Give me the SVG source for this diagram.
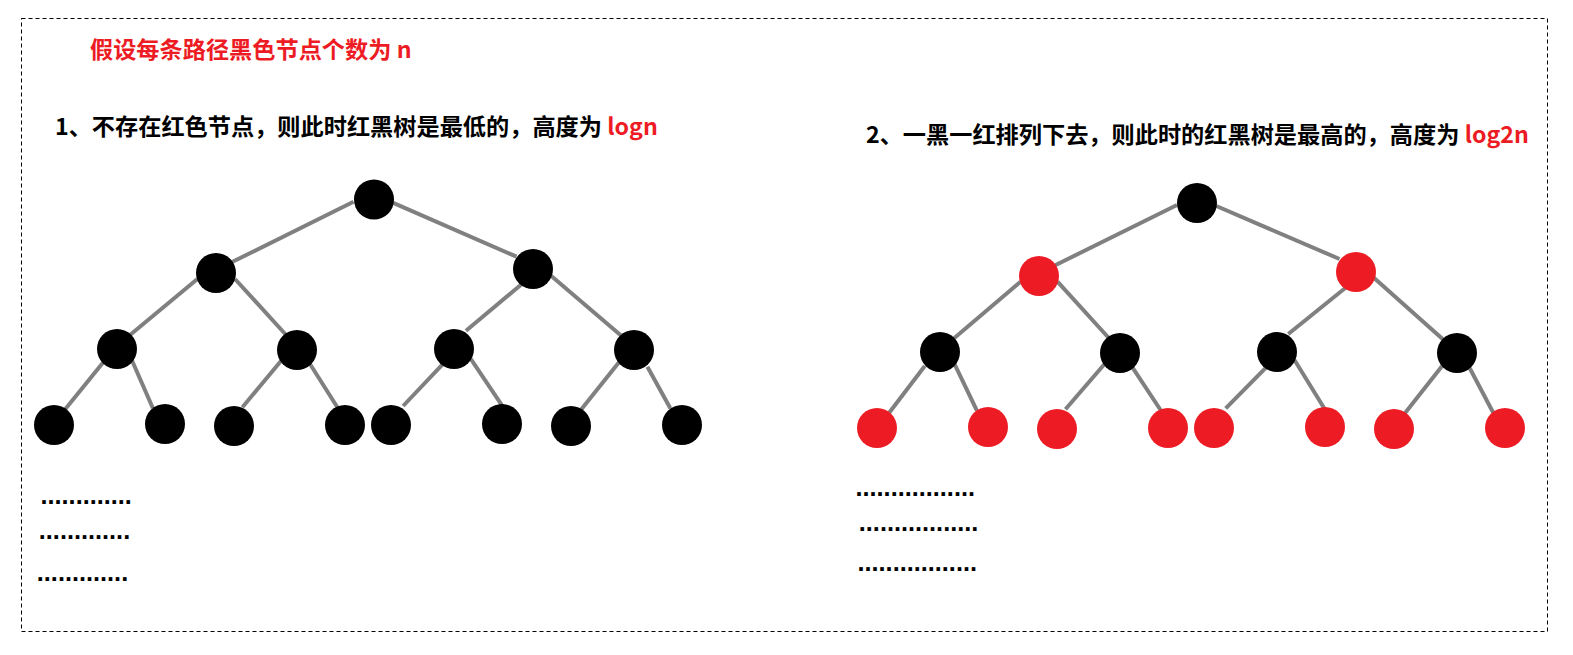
<svg xmlns="http://www.w3.org/2000/svg" width="1573" height="655" viewBox="0 0 1573 655">
<style>
.frame{fill:none;stroke:#000;stroke-width:1;stroke-dasharray:4 3}
.edge{stroke:#808080;stroke-width:4;stroke-linecap:butt}
.b{fill:#000}
.r{fill:#ED1C24}
.t{font-family:"Noto Sans CJK SC","Liberation Sans",sans-serif;font-weight:bold;font-size:23.2px;fill:#000}
.red{fill:#ED1C24}
.dots{font-family:"Liberation Sans",Arial,sans-serif;font-weight:bold;font-size:25.3px;fill:#000}
</style>
<rect width="1573" height="655" fill="#fff"/>
<rect class="frame" x="21.5" y="18.5" width="1526" height="613"/>

<g id="texts">
<text class="t red" x="90" y="58">假设每条路径黑色节点个数为 n</text>
<text class="t" x="55" y="135">1、不存在红色节点，则此时红黑树是最低的，高度为 <tspan class="red">logn</tspan></text>
<text class="t" x="866" y="143">2、一黑一红排列下去，则此时的红黑树是最高的，高度为 <tspan class="red">log2n</tspan></text>
<text class="dots" x="40.5" y="504">.............</text>
<text class="dots" x="38.8" y="539">.............</text>
<text class="dots" x="36.8" y="581">.............</text>
<text class="dots" x="855.5" y="496">.................</text>
<text class="dots" x="858.8" y="531">.................</text>
<text class="dots" x="857.5" y="571">.................</text>
</g>

<g id="connectors">
<line class="edge" x1="353.5" y1="201.7" x2="229.6" y2="263.3"/>
<line class="edge" x1="392.6" y1="202.7" x2="516.5" y2="256.7"/>
<line class="edge" x1="197.4" y1="279" x2="130" y2="335"/>
<line class="edge" x1="235" y1="279" x2="287" y2="336"/>
<line class="edge" x1="525.7" y1="280.7" x2="466" y2="330.7"/>
<line class="edge" x1="549" y1="274" x2="620.7" y2="335.3"/>
<line class="edge" x1="103.3" y1="362.3" x2="65.2" y2="409.3"/>
<line class="edge" x1="131.8" y1="360" x2="152.9" y2="408.3"/>
<line class="edge" x1="282.4" y1="359.3" x2="242.4" y2="407.3"/>
<line class="edge" x1="310" y1="364" x2="340.2" y2="411.7"/>
<line class="edge" x1="445.4" y1="361.3" x2="403.1" y2="406"/>
<line class="edge" x1="470.6" y1="358.7" x2="502.8" y2="406.7"/>
<line class="edge" x1="619.8" y1="361.3" x2="579.4" y2="411.7"/>
<line class="edge" x1="647.4" y1="366.7" x2="670.3" y2="408.3"/>

<line class="edge" x1="1177" y1="205" x2="1053.7" y2="266"/>
<line class="edge" x1="1216.3" y1="206" x2="1339.5" y2="259"/>
<line class="edge" x1="1020.5" y1="281.7" x2="953.2" y2="339"/>
<line class="edge" x1="1057.5" y1="281.7" x2="1110.6" y2="340"/>
<line class="edge" x1="1349" y1="285" x2="1288.3" y2="334"/>
<line class="edge" x1="1372.7" y1="276.7" x2="1443.7" y2="340"/>
<line class="edge" x1="924.8" y1="366" x2="889.2" y2="412.7"/>
<line class="edge" x1="954.2" y1="363.3" x2="976.9" y2="410.7"/>
<line class="edge" x1="1106.3" y1="362" x2="1065.5" y2="409.3"/>
<line class="edge" x1="1132.4" y1="367.3" x2="1163.2" y2="414"/>
<line class="edge" x1="1268.9" y1="364.7" x2="1225.7" y2="408.3"/>
<line class="edge" x1="1294.5" y1="360" x2="1325.3" y2="410"/>
<line class="edge" x1="1443.7" y1="364" x2="1403.5" y2="415"/>
<line class="edge" x1="1469.8" y1="368.3" x2="1493.5" y2="413.3"/>
</g>

<g id="L-root"><ellipse class="b" cx="374" cy="199.5" rx="20" ry="20"/></g>
<g id="L-1a"><ellipse class="b" cx="216" cy="273" rx="20" ry="20"/></g>
<g id="L-1b"><ellipse class="b" cx="533" cy="269" rx="20" ry="20"/></g>
<g id="L-2a"><ellipse class="b" cx="117" cy="349" rx="20" ry="20"/></g>
<g id="L-2b"><ellipse class="b" cx="297" cy="350" rx="20" ry="20"/></g>
<g id="L-2c"><ellipse class="b" cx="454" cy="349" rx="20" ry="20"/></g>
<g id="L-2d"><ellipse class="b" cx="634" cy="350" rx="20" ry="20"/></g>
<g id="L-3a"><ellipse class="b" cx="54" cy="425" rx="20" ry="20"/></g>
<g id="L-3b"><ellipse class="b" cx="165" cy="424" rx="20" ry="20"/></g>
<g id="L-3c"><ellipse class="b" cx="234" cy="426" rx="20" ry="20"/></g>
<g id="L-3d"><ellipse class="b" cx="345" cy="425" rx="20" ry="20"/></g>
<g id="L-3e"><ellipse class="b" cx="391" cy="425" rx="20" ry="20"/></g>
<g id="L-3f"><ellipse class="b" cx="502" cy="424" rx="20" ry="20"/></g>
<g id="L-3g"><ellipse class="b" cx="571" cy="426" rx="20" ry="20"/></g>
<g id="L-3h"><ellipse class="b" cx="682" cy="425" rx="20" ry="20"/></g>

<g id="R-root"><ellipse class="b" cx="1197" cy="203" rx="20" ry="20"/></g>
<g id="R-1a"><ellipse class="r" cx="1039" cy="276" rx="20" ry="20"/></g>
<g id="R-1b"><ellipse class="r" cx="1356" cy="272" rx="20" ry="20"/></g>
<g id="R-2a"><ellipse class="b" cx="940" cy="352" rx="20" ry="20"/></g>
<g id="R-2b"><ellipse class="b" cx="1120" cy="353" rx="20" ry="20"/></g>
<g id="R-2c"><ellipse class="b" cx="1277" cy="352" rx="20" ry="20"/></g>
<g id="R-2d"><ellipse class="b" cx="1457" cy="353" rx="20" ry="20"/></g>
<g id="R-3a"><ellipse class="r" cx="877" cy="428" rx="20" ry="20"/></g>
<g id="R-3b"><ellipse class="r" cx="988" cy="427" rx="20" ry="20"/></g>
<g id="R-3c"><ellipse class="r" cx="1057" cy="429" rx="20" ry="20"/></g>
<g id="R-3d"><ellipse class="r" cx="1168" cy="428" rx="20" ry="20"/></g>
<g id="R-3e"><ellipse class="r" cx="1214" cy="428" rx="20" ry="20"/></g>
<g id="R-3f"><ellipse class="r" cx="1325" cy="427" rx="20" ry="20"/></g>
<g id="R-3g"><ellipse class="r" cx="1394" cy="429" rx="20" ry="20"/></g>
<g id="R-3h"><ellipse class="r" cx="1505" cy="428" rx="20" ry="20"/></g>
</svg>
